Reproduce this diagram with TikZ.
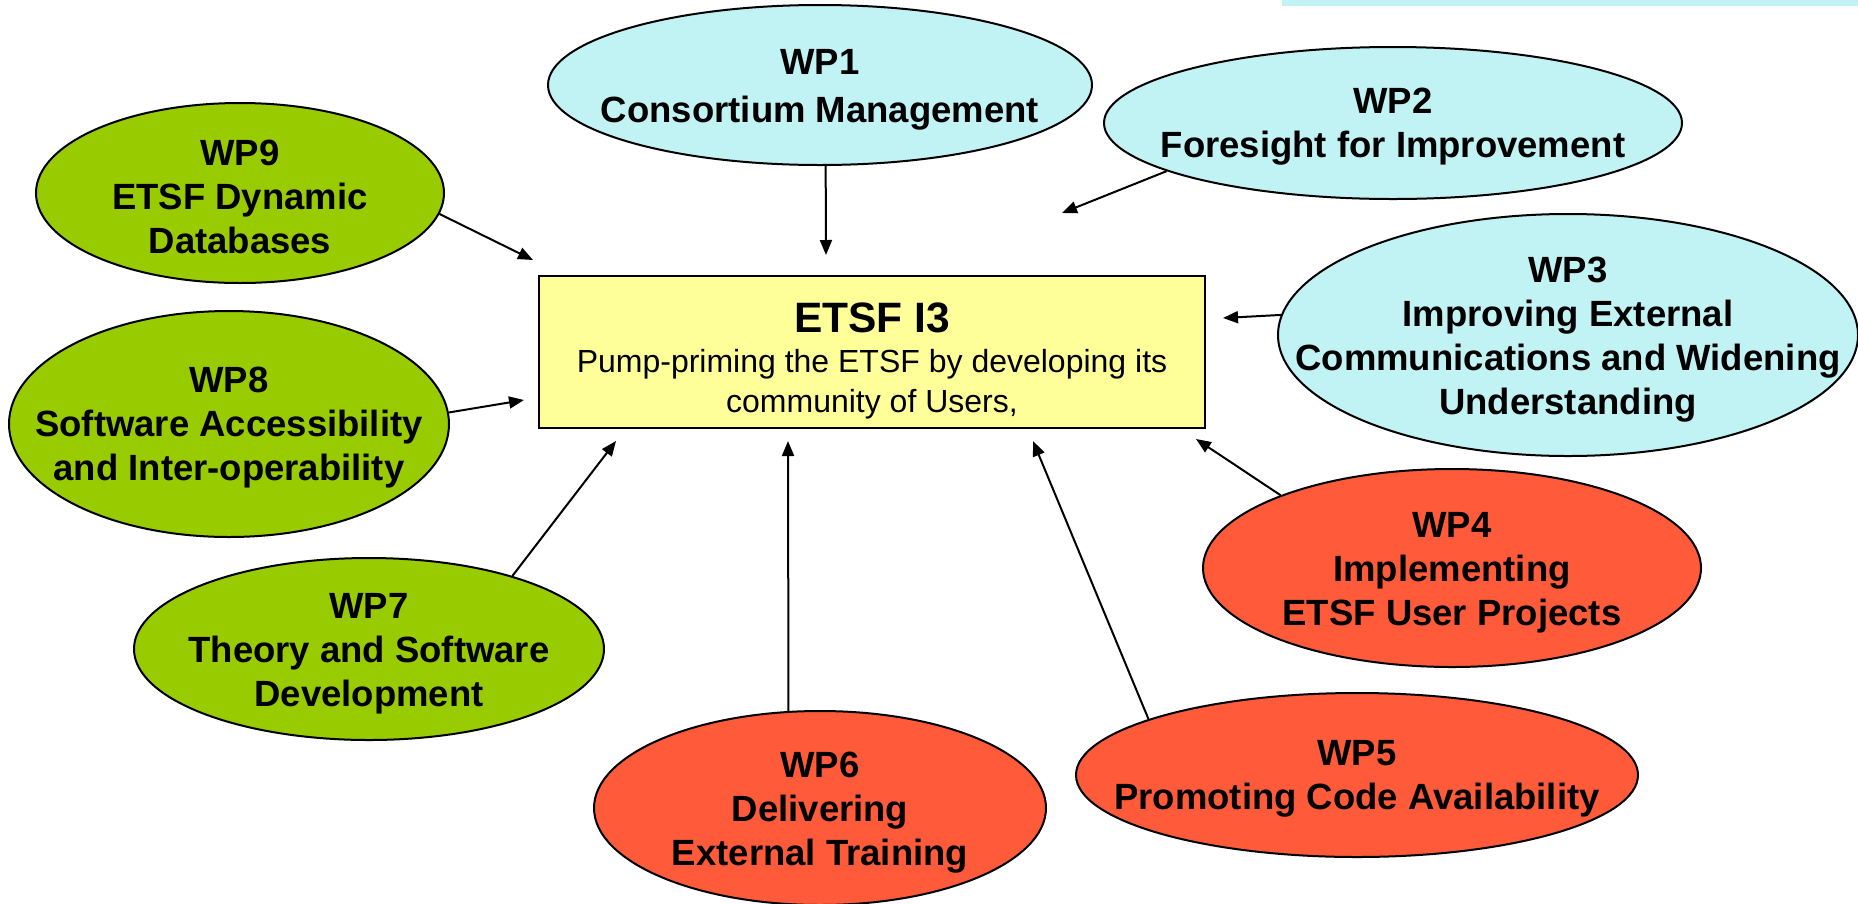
\documentclass[tikz,border=0pt]{standalone}
\usepackage{fontspec}
\setmainfont{Liberation Sans}
\usetikzlibrary{shapes.geometric,arrows.meta}
\definecolor{wpcyan}{HTML}{C1F2F4}
\definecolor{wpgreen}{HTML}{99CC00}
\definecolor{wpred}{HTML}{FF5B3B}
\definecolor{boxyellow}{HTML}{FFFF99}
\begin{document}
\begin{tikzpicture}[x=1pt,y=-1pt,
  wp/.style={ellipse,draw=black,line width=2pt,inner sep=0pt},
  wptext/.style={inner sep=0pt,align=center,font=\fontsize{36.5}{44}\selectfont\bfseries},
  arr/.style={line width=2pt,-{Triangle[length=15pt,width=12pt]}},
  centerbox/.style={rectangle,draw=black,line width=2pt,fill=boxyellow,inner sep=0pt},
  boxtext/.style={inner sep=0pt,align=center,font=\fontsize{32}{40}\selectfont}]
\useasboundingbox (0,0) rectangle (1858,903);
\fill[wpcyan] (1282,0) rectangle (1858,6);

\node[centerbox,minimum width=666pt,minimum height=152pt] (box) at (872,352) {};
\node[boxtext] (boxt) at (872,361)
  {{\fontsize{42.5}{48}\selectfont\bfseries ETSF I3}\\Pump-priming the ETSF by developing its\\community of Users,};

\node[wp,fill=wpcyan,minimum width=544pt,minimum height=160pt] (wp1) at (820,85) {};
\node[wp,fill=wpcyan,minimum width=578pt,minimum height=152pt] (wp2) at (1393,123) {};
\node[wp,fill=wpcyan,minimum width=580pt,minimum height=242pt] (wp3) at (1568,335) {};
\node[wp,fill=wpred,minimum width=498pt,minimum height=198pt] (wp4) at (1452,568) {};
\node[wp,fill=wpred,minimum width=562pt,minimum height=164pt] (wp5) at (1357,775) {};
\node[wp,fill=wpred,minimum width=452pt,minimum height=194pt] (wp6) at (820,808) {};
\node[wp,fill=wpgreen,minimum width=470pt,minimum height=182pt] (wp7) at (369,649) {};
\node[wp,fill=wpgreen,minimum width=440pt,minimum height=226pt] (wp8) at (229,424) {};
\node[wp,fill=wpgreen,minimum width=408pt,minimum height=180pt] (wp9) at (240,193) {};

\node[wptext,font=\fontsize{36.5}{48}\selectfont\bfseries] (t1) at (820,90) {WP1\\Consortium Management};
\node[wptext] (t2) at (1393,127) {WP2\\Foresight for Improvement};
\node[wptext] (t3) at (1568,340) {WP3\\Improving External\\Communications and Widening\\Understanding};
\node[wptext] (t4) at (1452,573) {WP4\\Implementing\\ETSF User Projects};
\node[wptext] (t5) at (1357,779) {WP5\\Promoting Code Availability};
\node[wptext] (t6) at (820,813) {WP6\\Delivering\\External Training};
\node[wptext] (t7) at (369,654) {WP7\\Theory and Software\\Development};
\node[wptext] (t8) at (229,428) {WP8\\Software Accessibility\\and Inter-operability};
\node[wptext] (t9) at (240,197) {WP9\\ETSF Dynamic\\Databases};

\coordinate (c1) at (826,255);
\coordinate (c2) at (1062,213);
\coordinate (c3) at (1223,318);
\coordinate (c4) at (1196,439);
\coordinate (c5) at (1033,441);
\coordinate (c6) at (788,441);
\coordinate (c7) at (616,441);
\coordinate (c8) at (524,400);
\coordinate (c9) at (533,260);

\draw[arr] (wp1.-86) -- (c1);
\draw[arr] (wp2.-168.1) -- (c2);
\draw[arr] (wp3.176.8) -- (c3);
\draw[arr] (wp4.157) -- (c4);
\draw[arr] (wp5.165.1) -- (c5);
\draw[arr] (wp6.108) -- (c6);
\draw[arr] (wp7.27) -- (c7);
\draw[arr] (wp8.3.1) -- (c8);
\draw[arr] (wp9.-6) -- (c9);
\end{tikzpicture}
\end{document}
